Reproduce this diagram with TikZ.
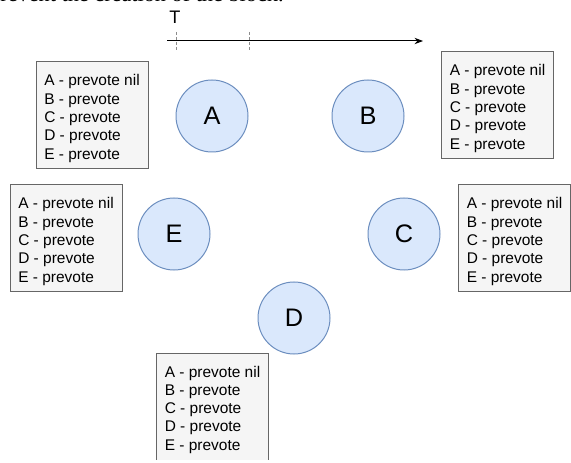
\documentclass[tikz,border=0pt]{standalone}
\usepackage{fontspec}
\setmainfont{Liberation Sans}
\newfontfamily\docserif{Liberation Serif}
\usetikzlibrary{arrows.meta}
\definecolor{peerfill}{HTML}{DAE8FC}
\definecolor{peerline}{HTML}{6C8EBF}
\definecolor{listfill}{HTML}{F5F5F5}
\definecolor{listline}{HTML}{666666}
\definecolor{tickgray}{HTML}{8C8C8C}
\tikzset{
    >=Stealth,
    vote/.style={
        peer/.append style={circle,draw=peerline,fill=peerfill,line width=0.75pt,minimum size=54pt,inner sep=0pt,font=\fontsize{19}{22}\selectfont},
        prevotes/.append style={rectangle,draw=listline,fill=listfill,line width=0.75pt,minimum width=84pt,minimum height=80.25pt,inner xsep=6pt,text height=10pt,text depth=54.25pt,font=\fontsize{11.6}{13.7}\selectfont},
        tickmark/.append style={draw=tickgray,line width=0.75pt,dash pattern=on 2.25pt off 1.5pt},
        timeline/.append style={draw,line width=0.75pt,->}
    }
}
\newcommand{\prevotelist}{\begin{tabular}[t]{@{}l@{}}A - prevote nil\\B - prevote\\C - prevote\\D - prevote\\E - prevote\end{tabular}}

\begin{document}
\begin{tikzpicture}[vote,x=0.75pt,y=-0.75pt]
    \useasboundingbox (0,0) rectangle (571,463);
    \clip (0,0) rectangle (571,459.3);
    \node[anchor=base west,inner sep=0pt,font=\docserif\fontsize{16.7}{20}\selectfont] (caption) at (-11,2) {prevent the creation of the block.};

    \node[font=\fontsize{13.6}{16}\selectfont] (t) at (175,17.5) {T};
    \coordinate (t0) at (167,41);
    \coordinate (t1) at (423,41);
    \draw[timeline] (t0) -- (t1);
    \coordinate (m0a) at (176,32);
    \coordinate (m0b) at (176,51);
    \coordinate (m1a) at (249,32);
    \coordinate (m1b) at (249,51);
    \draw[tickmark] (m0a) -- (m0b);
    \draw[tickmark] (m1a) -- (m1b);

    \node[peer] (a) at (212,116) {A};
    \node[peer] (b) at (368,116) {B};
    \node[peer] (e) at (174,234) {E};
    \node[peer] (c) at (404,234) {C};
    \node[peer] (d) at (294,318) {D};

    \node[prevotes] (pa) at (92,115.5) {\prevotelist};
    \node[prevotes] (pb) at (497.5,105.5) {\prevotelist};
    \node[prevotes] (pe) at (66,238.5) {\prevotelist};
    \node[prevotes] (pc) at (514.5,238.5) {\prevotelist};
    \node[prevotes] (pd) at (212.5,406.5) {\prevotelist};
\end{tikzpicture}
\end{document}
